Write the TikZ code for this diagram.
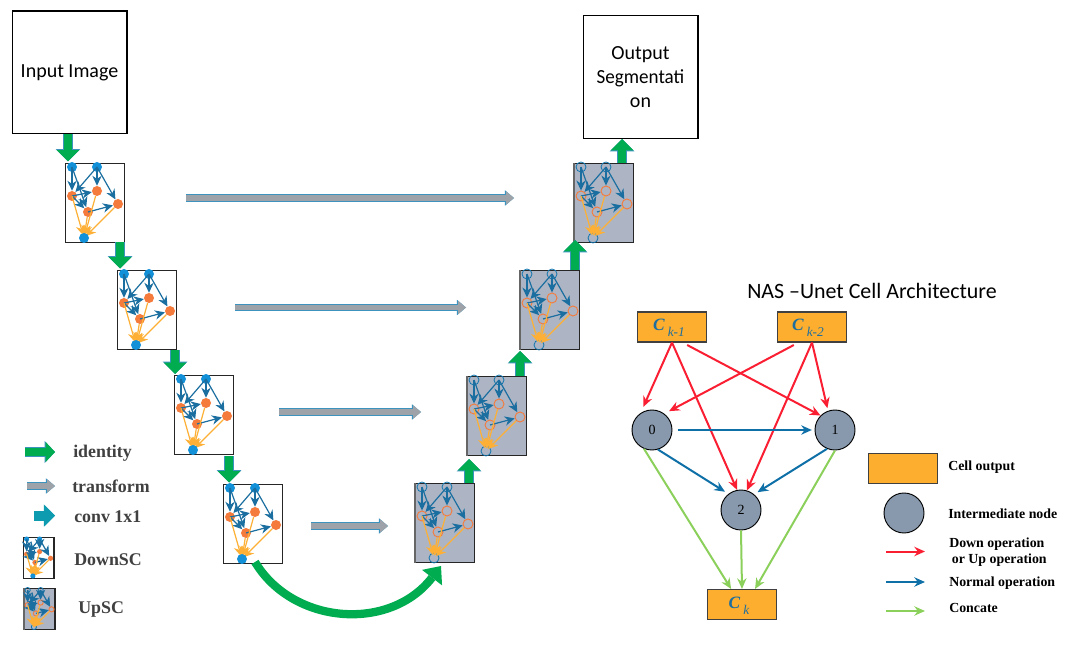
\documentclass[tikz,border=0pt]{standalone}
\usepackage{fontspec}
\setmainfont{Liberation Serif}
\newfontfamily\calib{Carlito}
\usetikzlibrary{arrows.meta}
\definecolor{cellblue}{HTML}{1B6FA0}
\definecolor{celltop}{HTML}{1391D8}
\definecolor{cellor}{HTML}{F47B3C}
\definecolor{cellyel}{HTML}{FDB035}
\definecolor{upfill}{HTML}{ADB5C4}
\definecolor{idgreen}{HTML}{00AC50}
\definecolor{outl}{HTML}{3C93BE}
\definecolor{trgrey}{HTML}{9DA3A8}
\definecolor{convteal}{HTML}{0E9BB0}
\definecolor{boxor}{HTML}{FDAE2E}
\definecolor{nodegrey}{HTML}{8899AD}
\definecolor{labgrey}{HTML}{404040}
\definecolor{optext}{HTML}{1F6E9E}
\definecolor{concat}{HTML}{8CD05C}
\definecolor{opred}{HTML}{FA1E32}
\definecolor{opblue}{HTML}{0F70A8}
\tikzset{
  cellbox/.style={draw=black!85,line width=.8pt,rectangle,minimum width=44.5pt,minimum height=59.5pt,inner sep=0pt,transform shape},
  dot/.style={circle,minimum size=7.5pt,inner sep=0pt,transform shape},
  topdot/.style={dot,fill=celltop},
  ordot/.style={dot,fill=cellor},
  uptop/.style={dot,draw=celltop!80!black,line width=.6pt},
  upor/.style={dot,draw=cellor,line width=.7pt},
  cellb/.style={draw=cellblue,line width=.9pt,-{Stealth[length=7.5pt,width=7pt]}},
  celly/.style={draw=cellyel,line width=.9pt,shorten >=-2pt,-{Stealth[length=7.5pt,width=7pt]}},
  blockarrow/.style n args={5}{line width=#3pt,draw=#1,
     preaction={draw=#2,line width=#3pt+1pt,-{Triangle[length=#5pt+.8pt,width=#4pt+1.6pt,line width=0pt]}},
     -{Triangle[length=#5pt,width=#4pt,line width=0pt]}},
  idarrow/.style={blockarrow={idgreen}{outl}{6.5}{17}{8.5}},
  trarrow/.style={blockarrow={trgrey}{outl}{4.4}{10}{6}},
  bigbox/.style={draw=black,line width=.8pt,fill=white,rectangle,inner sep=0pt,align=center,font=\calib\fontsize{15}{18}\selectfont},
  lab/.style={font=\bfseries\fontsize{13.4}{15}\selectfont,text=labgrey,anchor=west,inner sep=0pt},
  rlab/.style={font=\bfseries\fontsize{10.4}{12.5}\selectfont,anchor=west,inner sep=0pt,align=left},
  orbox/.style={rectangle,draw=black!75,line width=.8pt,fill=boxor,minimum width=52pt,minimum height=22.5pt,inner sep=0pt},
  opnode/.style={circle,draw=black,line width=.7pt,fill=nodegrey,minimum size=30pt,inner sep=0pt,font=\fontsize{10.5}{11}\selectfont},
  opt/.style={font=\fontsize{13}{14}\selectfont,text=optext,inner sep=0pt},
  oparrow/.style={line width=1.5pt,-{Stealth[length=8pt,width=7pt]}},
  rarr/.style={oparrow,draw=opred},
  barr/.style={oparrow,draw=opblue},
  garr/.style={oparrow,draw=concat},
  pics/downsc/.style={code={
    \node[cellbox,fill=white] (-box) at (30,40) {};
    \node[topdot] (-a) at (7,4) {};
    \node[topdot] (-b) at (32,4) {};
    \node[ordot] (-c) at (7,33) {};
    \node[ordot] (-d) at (32,28) {};
    \node[ordot] (-e) at (53,41) {};
    \node[ordot] (-f) at (23,49) {};
    \node[dot] (-g) at (19,75) {};
    \draw[cellb] (-a.center) -- (-c);
    \draw[cellb] (-a.center) -- (-f);
    \draw[cellb] (-b.center) -- (-c);
    \draw[cellb] (-b.center) -- (-d);
    \draw[cellb] (-b.center) -- (-e);
    \draw[cellb] (-c.center) -- (-d);
    \draw[cellb] (-c.center) -- (-f);
    \draw[cellb] (-f.center) -- (-e);
    \draw[celly] (-c.center) -- (-g);
    \draw[celly] (-d) -- (-g);
    \draw[celly] (-e) -- (-g);
    \draw[celly] (-f) -- (-g);
    \fill[celltop] (-g) circle (5);
  }},
  pics/upsc/.style={code={
    \node[cellbox,fill=upfill] (-box) at (30,40) {};
    \draw[black!60,line width=1.4pt] (-box.north west) -- (-box.south west);
    \node[uptop] (-a) at (7,4) {};
    \node[uptop] (-b) at (32,4) {};
    \node[upor] (-c) at (7,33) {};
    \node[upor] (-d) at (32,28) {};
    \node[upor] (-e) at (53,41) {};
    \node[upor] (-f) at (23,49) {};
    \node[uptop] (-g) at (19,75) {};
    \draw[cellb] (-a.center) -- (-c);
    \draw[cellb] (-a.center) -- (-f);
    \draw[cellb] (-b.center) -- (-c);
    \draw[cellb] (-b.center) -- (-d);
    \draw[cellb] (-b.center) -- (-e);
    \draw[cellb] (-c.center) -- (-d);
    \draw[cellb] (-c.center) -- (-f);
    \draw[cellb] (-f.center) -- (-e);
    \draw[celly] (-c.center) -- (-g);
    \draw[celly] (-d) -- (-g);
    \draw[celly] (-e) -- (-g);
    \draw[celly] (-f) -- (-g);
  }},
}
\newcommand{\cellname}[1]{\textbf{\textit{\fontsize{13}{14}\selectfont C}}\,\raisebox{-4.5pt}{\textit{\fontsize{10}{12}\selectfont #1}}}
\begin{document}
\begin{tikzpicture}[x=.75pt,y=-.75pt]
\useasboundingbox (0,0) rectangle (1082,645);
% big boxes
\node[bigbox,minimum width=86.2pt,minimum height=92.2pt] (input) at (69.5,72.5) {\raisebox{-2pt}{Input Image}};
\node[bigbox,minimum width=86.2pt,minimum height=92.8pt] (output) at (640.5,77) {\raisebox{-1.2pt}{\parbox{80pt}{\centering Output\\\scalebox{.955}[1]{Segmentati}\\on}}};
% cells
\pic (d1) at (65,163) {downsc};
\pic (d2) at (117,270) {downsc};
\pic (d3) at (174,375) {downsc};
\pic (d4) at (223,484) {downsc};
\pic (u1) at (574,163) {upsc};
\pic (u2) at (520,270) {upsc};
\pic (u3) at (467,376) {upsc};
\pic (u4) at (415,483) {upsc};
% identity arrows (down)
\coordinate (i1) at (68,134); \coordinate (i1e) at (68,161.5);
\coordinate (i2) at (120,242.5); \coordinate (i2e) at (120,268.5);
\coordinate (i3) at (175,350); \coordinate (i3e) at (175,374);
\coordinate (i4) at (229,456); \coordinate (i4e) at (229,482.5);
\draw[idarrow] (i1) -- (i1e);
\draw[idarrow] (i2) -- (i2e);
\draw[idarrow] (i3) -- (i3e);
\draw[idarrow] (i4) -- (i4e);
% identity arrows (up)
\coordinate (j4) at (469,483); \coordinate (j4e) at (469,459);
\coordinate (j3) at (520,376); \coordinate (j3e) at (520,351);
\coordinate (j2) at (575,270); \coordinate (j2e) at (575,240);
\coordinate (j1) at (622,163); \coordinate (j1e) at (622,139);
\draw[idarrow] (j4) -- (j4e);
\draw[idarrow] (j3) -- (j3e);
\draw[idarrow] (j2) -- (j2e);
\draw[idarrow] (j1) -- (j1e);
% transform arrows
\coordinate (t1) at (186,198); \coordinate (t1e) at (514,198);
\coordinate (t2) at (235,307.5); \coordinate (t2e) at (466,307.5);
\coordinate (t3) at (279,412); \coordinate (t3e) at (421,412);
\coordinate (t4) at (311,526); \coordinate (t4e) at (388,526);
\draw[trarrow] (t1) -- (t1e);
\draw[trarrow] (t2) -- (t2e);
\draw[trarrow] (t3) -- (t3e);
\draw[trarrow] (t4) -- (t4e);
% big curved arrow
\coordinate (cs) at (255,562); \coordinate (ce) at (441,566);
\draw[draw=idgreen,line width=6.2pt,-{Triangle[length=11pt,width=19pt,line width=0pt]}]
  (cs) .. controls (293,625) and (390,632) .. (ce);
% left legend
\coordinate (l1) at (25,452); \coordinate (l1e) at (55,452);
\coordinate (l2) at (27,486); \coordinate (l2e) at (55,486);
\coordinate (l3) at (34,515.5); \coordinate (l3e) at (55,515.5);
\draw[blockarrow={idgreen}{outl}{6.5}{15}{7}] (l1) -- (l1e);
\draw[trarrow] (l2) -- (l2e);
\draw[blockarrow={convteal}{convteal}{6.5}{15}{7.5}] (l3) -- (l3e);
\node[lab] (tid) at (73,453.5) {identity};
\node[lab] (ttr) at (72,486.5) {transform};
\node[lab] (tcv) at (74,517) {conv 1x1};
\node[lab] (tdn) at (74,560) {DownSC};
\node[lab] (tup) at (78,609) {UpSC};
\pic[scale=.52] (ld) at (23,537) {downsc};
\pic[scale=.52] (lu) at (24,588) {upsc};
% title
\node[font=\calib\fontsize{16.45}{18}\selectfont,anchor=west,inner sep=0pt] (title) at (747,291) {NAS –Unet Cell Architecture};
% cell architecture
\node[orbox] (k1) at (672,327) {}; \node[opt] (k1t) at (669,328) {\cellname{k-1}};
\node[orbox] (k2) at (812,327) {}; \node[opt] (k2t) at (808,328) {\cellname{k-2}};
\node[orbox] (ck) at (742,604.5) {}; \node[opt] (ckt) at (739,606) {\cellname{k}};
\node[opnode] (n0) at (652,430) {0};
\node[opnode] (n1) at (835,430) {1};
\node[opnode] (n2) at (741,510) {2};
\draw[rarr,shorten >=5pt] (k1.south) -- (n0.124);
\draw[rarr] (k1.south) -- (n2.101);
\draw[rarr,shorten <=4pt] (k1.-56) -- (n1.135);
\draw[rarr,shorten <=4pt,shorten >=4pt] (k2.-131) -- (n0.53);
\draw[rarr] (k2.south) -- (n2.73);
\draw[rarr,shorten >=2pt] (k2.south) -- (n1.110);
\draw[barr,shorten <=4pt,shorten >=2pt] (n0.east) -- (n1.west);
\draw[barr,shorten >=3pt] (n0.-73) -- (n2.128);
\draw[barr,shorten >=3pt] (n1.-113) -- (n2.50);
\draw[garr] (n0.-113) -- (ck.125);
\draw[garr] (n2.south) -- (ck.north);
\draw[garr] (n1.south) -- (ck.50);
% right legend
\node[orbox] (lbox) at (903,468.5) {};
\node[opnode] (lnode) at (904,513) {};
\coordinate (r1) at (886,551.5); \coordinate (r1e) at (925,551.5);
\coordinate (r2) at (886,582); \coordinate (r2e) at (925,582);
\coordinate (r3) at (886,611); \coordinate (r3e) at (925,611);
\draw[rarr] (r1) -- (r1e);
\draw[barr] (r2) -- (r2e);
\draw[garr] (r3) -- (r3e);
\node[rlab] (c1) at (948,467) {Cell output};
\node[rlab] (c2) at (948,513.5) {Intermediate node};
\node[rlab] (c3) at (949,552) {Down operation\\[-.5pt]\hspace*{2pt}or Up operation};
\node[rlab] (c4) at (949,583) {Normal operation};
\node[rlab] (c5) at (949,608) {Concate};
\end{tikzpicture}
\end{document}
